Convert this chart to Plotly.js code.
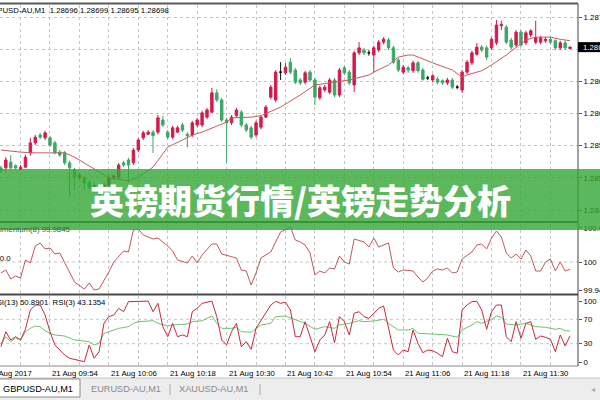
<!DOCTYPE html>
<html><head><meta charset="utf-8">
<script src="https://cdn.plot.ly/plotly-3.0.1.min.js"></script>
<style>html,body{margin:0;padding:0;background:#fff;overflow:hidden}#chart{width:600px;height:400px}</style>
</head><body><div id="chart"></div>
<script>
// ---------- data ----------
const symbolName = "GBPUSD-AU,M1";
const headerOHLC = ["1.28696", "1.28699", "1.28695", "1.28698"];
const momentumLabel = "Momentum(8) 99.9845";
const rsiLabel = "RSI(13) 50.8901\u00a0\u00a0RSI(3) 43.1354";
const bannerText = "英镑期货行情/英镑走势分析";
const tabNames = ["GBPUSD-AU,M1", "EURUSD-AU,M1", "XAUUSD-AU,M1"];

// one candle per minute, bar 0 = 21 Aug 09:44
const openP = [
1.28529,1.28529,1.28537,1.28532,1.28527,1.28530,1.28550,1.28564,1.28575,1.28571,
1.28571,1.28564,1.28551,1.28550,1.28536,1.28526,1.28515,1.28515,1.28509,1.28505,
1.28501,1.28497,1.28505,1.28515,1.28516,1.28536,1.28540,1.28536,1.28554,1.28571,
1.28576,1.28579,1.28579,1.28596,1.28579,1.28572,1.28579,1.28589,1.28576,1.28575,
1.28589,1.28589,1.28600,1.28607,1.28634,1.28624,1.28596,1.28592,1.28602,1.28607,
1.28589,1.28585,1.28575,1.28586,1.28600,1.28628,1.28624,1.28663,1.28662,1.28677,
1.28666,1.28652,1.28649,1.28663,1.28652,1.28627,1.28638,1.28635,1.28652,1.28631,
1.28669,1.28663,1.28645,1.28690,1.28694,1.28690,1.28687,1.28694,1.28705,1.28708,
1.28697,1.28680,1.28663,1.28669,1.28665,1.28676,1.28666,1.28655,1.28652,1.28653,
1.28651,1.28648,1.28652,1.28642,1.28638,1.28663,1.28676,1.28688,1.28698,1.28697,
1.28697,1.28704,1.28728,1.28726,1.28708,1.28701,1.28719,1.28704,1.28715,1.28705,
1.28705,1.28707,1.28709,1.28707,1.28697,1.28704,1.28696];
const highP = [
1.28532,1.28544,1.28547,1.28534,1.28533,1.28547,1.28571,1.28575,1.28578,1.28581,
1.28574,1.28567,1.28554,1.28553,1.28539,1.28529,1.28522,1.28518,1.28512,1.28508,
1.28504,1.28508,1.28518,1.28520,1.28536,1.28539,1.28543,1.28557,1.28571,1.28581,
1.28582,1.28582,1.28603,1.28602,1.28582,1.28588,1.28588,1.28592,1.28579,1.28595,
1.28599,1.28609,1.28613,1.28641,1.28639,1.28627,1.28599,1.28603,1.28613,1.28610,
1.28592,1.28588,1.28595,1.28603,1.28617,1.28645,1.28666,1.28677,1.28676,1.28683,
1.28669,1.28655,1.28665,1.28666,1.28655,1.28644,1.28645,1.28655,1.28655,1.28669,
1.28672,1.28666,1.28693,1.28705,1.28697,1.28694,1.28700,1.28708,1.28712,1.28711,
1.28700,1.28683,1.28673,1.28672,1.28679,1.28679,1.28669,1.28658,1.28660,1.28656,
1.28653,1.28655,1.28655,1.28645,1.28666,1.28680,1.28693,1.28704,1.28701,1.28700,
1.28712,1.28736,1.28735,1.28729,1.28711,1.28722,1.28722,1.28721,1.28723,1.28735,
1.28714,1.28712,1.28712,1.28709,1.28707,1.28707,1.28699];
const lowP = [
1.28522,1.28523,1.28527,1.28526,1.28525,1.28529,1.28546,1.28561,1.28569,1.28568,
1.28558,1.28548,1.28544,1.28533,1.28488,1.28498,1.28512,1.28498,1.28499,1.28494,
1.28490,1.28494,1.28502,1.28512,1.28513,1.28530,1.28509,1.28533,1.28551,1.28568,
1.28575,1.28550,1.28576,1.28586,1.28569,1.28569,1.28578,1.28579,1.28558,1.28572,
1.28586,1.28586,1.28597,1.28606,1.28621,1.28593,1.28536,1.28589,1.28599,1.28586,
1.28579,1.28569,1.28572,1.28583,1.28599,1.28625,1.28621,1.28652,1.28659,1.28660,
1.28646,1.28645,1.28646,1.28649,1.28617,1.28624,1.28635,1.28632,1.28628,1.28628,
1.28659,1.28645,1.28635,1.28687,1.28687,1.28686,1.28663,1.28691,1.28702,1.28694,
1.28674,1.28663,1.28660,1.28662,1.28662,1.28662,1.28651,1.28652,1.28649,1.28646,
1.28645,1.28645,1.28639,1.28639,1.28634,1.28660,1.28673,1.28686,1.28691,1.28680,
1.28694,1.28701,1.28722,1.28702,1.28695,1.28698,1.28698,1.28701,1.28712,1.28702,
1.28702,1.28704,1.28702,1.28694,1.28694,1.28694,1.28695];
const closeP = [
1.28525,1.28540,1.28529,1.28529,1.28530,1.28544,1.28564,1.28572,1.28572,1.28578,
1.28561,1.28550,1.28547,1.28536,1.28529,1.28516,1.28519,1.28508,1.28502,1.28498,
1.28495,1.28505,1.28515,1.28518,1.28533,1.28533,1.28533,1.28554,1.28568,1.28578,
1.28579,1.28574,1.28599,1.28589,1.28572,1.28585,1.28585,1.28582,1.28574,1.28592,
1.28596,1.28606,1.28610,1.28634,1.28624,1.28596,1.28592,1.28600,1.28610,1.28589,
1.28582,1.28572,1.28592,1.28600,1.28614,1.28642,1.28663,1.28663,1.28670,1.28663,
1.28649,1.28648,1.28662,1.28652,1.28628,1.28641,1.28642,1.28652,1.28631,1.28666,
1.28662,1.28648,1.28690,1.28697,1.28690,1.28690,1.28697,1.28705,1.28709,1.28697,
1.28677,1.28666,1.28670,1.28666,1.28676,1.28665,1.28653,1.28655,1.28658,1.28649,
1.28648,1.28652,1.28642,1.28642,1.28663,1.28677,1.28690,1.28698,1.28694,1.28684,
1.28709,1.28729,1.28730,1.28705,1.28698,1.28719,1.28701,1.28718,1.28721,1.28711,
1.28711,1.28709,1.28705,1.28697,1.28704,1.28697,1.28698];

const maBar = [0,4,7,10,13,15,17,20,22,26,28,31,34,37,39,41,46,47,51,53,57,61,64,68,71,75,76,79,81,83,84,88,92,94,95,98,100,103,105,107,109,112,114,116];
const maVal = [1.28554,1.28551,1.28550,1.28550,1.28550,1.28544,1.28536,1.28523,1.28515,1.28511,1.28516,1.28530,1.28558,1.28568,1.28575,1.28579,1.28593,1.28599,1.28600,1.28602,1.28614,1.28631,1.28645,1.28649,1.28652,1.28659,1.28663,1.28673,1.28684,1.28687,1.28687,1.28676,1.28666,1.28656,1.28659,1.28665,1.28673,1.28687,1.28698,1.28708,1.28712,1.28712,1.28709,1.28707];

// Momentum(8)
const momBar = [0,1,2,3,4,5,6,7,8,9,10,11,12,13,14,15,17,18,19,20,22,23,25,26,27,28,29,31,32,34,35,36,38,39,40,41,43,44,45,47,48,49,50,51,52,53,55,57,59,60,61,62,63,64,65,66,67,68,69,70,71,72,74,75,76,77,79,80,81,82,84,85,86,87,88,89,90,91,92,93,94,96,97,98,99,100,101,102,103,104,105,106,107,108,109,110,111,112,113,114,115,116];
const momVal = [99.9764,99.9829,99.9636,99.9700,99.9657,100.0043,99.9979,100.0343,100.0407,100.0279,
100.0300,100.0171,100.0193,99.9979,99.9764,99.9571,99.9421,99.9550,99.9400,99.9421,
99.9786,100.0000,100.0236,100.0214,100.0686,100.0707,100.0579,100.0493,100.0514,100.0343,
100.0236,100.0043,99.9979,100.0129,99.9979,100.0150,100.0386,100.0386,100.0171,100.0107,
100.0086,99.9829,99.9807,99.9507,99.9764,100.0086,100.0214,100.0643,100.0750,100.0471,
100.0429,100.0364,100.0193,99.9721,99.9807,99.9764,99.9871,99.9850,100.0129,100.0000,
99.9957,100.0493,100.0429,100.0321,100.0514,100.0321,100.0407,99.9871,99.9786,99.9829,
99.9807,99.9679,99.9571,99.9657,99.9807,99.9850,99.9829,99.9871,99.9764,99.9786,
100.0064,100.0214,100.0364,100.0386,100.0279,100.0514,100.0664,100.0536,100.0193,100.0086,
100.0171,100.0064,100.0257,100.0129,99.9807,99.9807,100.0000,100.0064,99.9807,100.0000,
99.9807,99.9845];

// RSI(3) (red) and RSI(13) (green)
const rsiFastBar = [0,1,2,3,4,5,6,7,8,9,10,11,12,13,14,16,17,18,19,20,21,22,23,24,25,26,28,30,31,32,33,34,35,36,37,38,39,40,41,43,44,45,46,47,48,49,50,51,52,54,55,56,57,58,59,60,61,62,64,65,66,67,68,69,70,71,72,73,74,75,76,77,78,80,81,82,83,84,85,86,87,88,89,90,91,92,93,94,95,96,97,98,99,100,101,102,103,104,105,106,107,108,109,110,111,112,113,114,115,116];
const rsiFastVal = [25.1,49.7,36.1,41.5,36.1,54.1,85.2,93.4,93.4,77.0,49.7,27.9,19.7,11.5,6.1,
2.1,0.5,27.9,6.1,16.9,63.4,74.3,77.0,88.0,82.5,98.9,
99.6,99.8,
82.5,96.2,57.9,41.5,63.4,41.5,44.3,41.5,82.5,88.0,96.2,
99.7,74.3,36.1,27.9,49.7,63.4,25.1,33.3,20.8,55.2,
79.8,93.4,99.5,96.2,97.9,85.2,41.5,41.5,66.1,
16.9,36.1,44.3,66.1,31.6,74.3,66.1,44.3,79.8,82.5,74.3,71.6,79.8,88.0,91.8,
19.7,11.5,19.7,16.9,52.5,30.7,15.2,19.7,18.5,14.3,8.7,38.9,16.9,14.3,85.2,93.4,98.9,99.6,85.2,53.6,
82.5,93.4,93.4,41.5,33.3,66.1,38.9,63.4,66.1,37.2,42.6,40.5,37.2,16.9,44.3,26.2,43.1354];
const rsiSlowBar = [0,1,2,3,4,5,6,7,8,9,10,11,13,15,18,19,20,21,23,24,26,27,28,30,31,32,34,35,37,38,39,41,43,44,45,47,48,49,51,52,53,55,56,58,60,61,62,64,66,68,69,71,73,74,76,78,79,81,83,84,85,88,91,93,94,96,97,98,100,101,102,103,105,107,109,111,113,114,115,116];
const rsiSlowVal = [30.0,41.5,33.3,39.3,36.1,49.7,55.2,59.0,57.9,51.3,47.0,44.3,
42.6,36.1,33.3,27.9,30.7,47.0,52.5,55.2,57.9,63.4,66.1,67.7,67.7,63.4,59.0,60.7,61.8,62.3,66.1,67.7,
75.4,63.4,55.2,55.2,56.9,49.7,48.7,55.2,60.7,63.4,74.3,75.4,68.9,66.1,63.4,53.6,57.9,55.2,60.7,63.4,
67.7,66.1,67.2,70.0,63.4,52.5,52.5,55.2,47.0,45.9,44.3,40.5,52.5,60.7,66.1,63.4,70.0,75.4,73.3,62.3,
60.7,63.4,57.9,56.9,53.6,55.2,51.3,50.8901];

// axes
const gridBars = [4,10,16,22,28,34,40,46,52,58,64,70,76,82,88,94,100,106,112];
const timeLabelBars = [10,22,34,46,58,70,82,94,106];
const timeLabels = ["21 Aug 09:54","21 Aug 10:06","21 Aug 10:18","21 Aug 10:30","21 Aug 10:42","21 Aug 10:54","21 Aug 11:06","21 Aug 11:18","21 Aug 11:30"];
const firstDateLabel = "21 Aug 2017";
const priceTicks = [1.28740,1.28695,1.28650,1.28605,1.28560,1.28515,1.28470];
const priceTickText = ["1.28740","","1.28650","1.28605","1.28560","1.28515","1.28470"];
const momTicks = [99.94,100,100.073];
const momTickText = ["99.94","100","100.073"];
const rsiTicks = [0,30,70,100];

// ---------- drawing ----------
const PLOT_R = 578, PLOT_T = 5, PLOT_B = 366;
const px = x => x / PLOT_R;
const py = y => (PLOT_B - y) / (PLOT_B - PLOT_T);
const FONT = "Liberation Sans, Arial, sans-serif";
const UP = "#d41b4c", DOWN = "#3aa866";

const bars = openP.map((_, i) => i);
const isDoji = i => openP[i] === closeP[i];
const normIdx = bars.filter(i => !isDoji(i));
const dojiIdx = bars.filter(i => isDoji(i));
const pick = (arr, idx) => idx.map(i => arr[i]);

const traces = [
  {type:'candlestick', xaxis:'x', yaxis:'y', x: normIdx, open: pick(openP,normIdx), high: pick(highP,normIdx),
   low: pick(lowP,normIdx), close: pick(closeP,normIdx), whiskerwidth:0, hoverinfo:'skip',
   increasing:{line:{color:UP,width:1}, fillcolor:UP}, decreasing:{line:{color:DOWN,width:1}, fillcolor:DOWN}},
  {type:'candlestick', xaxis:'x', yaxis:'y', x: dojiIdx, open: pick(openP,dojiIdx), high: pick(highP,dojiIdx),
   low: pick(lowP,dojiIdx), close: pick(closeP,dojiIdx), whiskerwidth:0, hoverinfo:'skip',
   increasing:{line:{color:'#111',width:1}, fillcolor:'#111'}, decreasing:{line:{color:'#111',width:1}, fillcolor:'#111'}},
  {type:'scatter', mode:'lines', xaxis:'x', yaxis:'y', x: maBar, y: maVal, line:{color:'#c85a5e', width:1}, hoverinfo:'skip'},
  {type:'scatter', mode:'lines', xaxis:'x', yaxis:'y2', x: momBar, y: momVal, line:{color:'#c0585c', width:1}, hoverinfo:'skip'},
  {type:'scatter', mode:'lines', xaxis:'x', yaxis:'y3', x: rsiSlowBar, y: rsiSlowVal, line:{color:'#6cc46c', width:1}, hoverinfo:'skip'},
  {type:'scatter', mode:'lines', xaxis:'x', yaxis:'y3', x: rsiFastBar, y: rsiFastVal, line:{color:'#c8283c', width:1}, hoverinfo:'skip'}
];

const GRID = '#c6c6c6';
const yCommon = {side:'right', anchor:'x', zeroline:false, showline:false, automargin:false, fixedrange:true,
  ticks:'outside', ticklen:3, tickcolor:'#555', tickfont:{family:FONT, size:7.8, color:'#000'}};

const lastClose = closeP[closeP.length - 1];
const boxHalf = 0.00007;

const shapes = [
  {type:'line', xref:'paper', yref:'y2', x0:0, x1:1, y0:100, y1:100, line:{color:GRID, width:1, dash:'dot'}, layer:'below'},
  {type:'line', xref:'paper', yref:'y3', x0:0, x1:1, y0:70, y1:70, line:{color:GRID, width:1, dash:'dot'}, layer:'below'},
  {type:'line', xref:'paper', yref:'y3', x0:0, x1:1, y0:30, y1:30, line:{color:GRID, width:1, dash:'dot'}, layer:'below'},
  {type:'line', xref:'paper', yref:'paper', x0:0, x1:1, y0:py(3.5), y1:py(3.5), line:{color:'#5a5a5a', width:2}},
  {type:'line', xref:'paper', yref:'paper', x0:0, x1:1, y0:py(222), y1:py(222), line:{color:'#4a4a4a', width:2}},
  {type:'line', xref:'paper', yref:'paper', x0:0, x1:1, y0:py(294.5), y1:py(294.5), line:{color:'#4a4a4a', width:2}},
  {type:'line', xref:'paper', yref:'paper', x0:0, x1:1, y0:0, y1:0, line:{color:'#8a8a8a', width:1}},
  {type:'line', xref:'paper', yref:'paper', x0:1, x1:1, y0:0, y1:py(3.5), line:{color:'#444', width:1}},
  {type:'rect', xref:'paper', yref:'y', x0:1, x1:px(604), y0:lastClose - boxHalf, y1:lastClose + boxHalf, fillcolor:'#000', line:{width:0}},
  // tab strip
  {type:'rect', xref:'paper', yref:'paper', x0:0, x1:px(604), y0:py(400), y1:py(378), fillcolor:'#ededed', line:{width:0}},
  {type:'line', xref:'paper', yref:'paper', x0:0, x1:px(604), y0:py(378), y1:py(378), line:{color:'#c4c4c4', width:1}},
  {type:'rect', xref:'paper', yref:'paper', x0:px(-2), x1:px(80), y0:py(397), y1:py(379), fillcolor:'#ffffff', line:{color:'#8c8c8c', width:1}},
  {type:'line', xref:'paper', yref:'paper', x0:px(170), x1:px(170), y0:py(384), y1:py(395), line:{color:'#a8a8a8', width:1}},
  {type:'line', xref:'paper', yref:'paper', x0:px(260), x1:px(260), y0:py(384), y1:py(395), line:{color:'#a8a8a8', width:1}},
  // banner
  {type:'rect', xref:'paper', yref:'paper', x0:px(-4), x1:px(604), y0:py(230), y1:py(169), fillcolor:'rgba(51,166,51,0.8)', line:{width:0}, layer:'above'}
];

const small = {family:FONT, size:7.8, color:'#000'};
const annotations = [
  {xref:'paper', yref:'paper', x:px(171), y:py(11), xanchor:'right', yanchor:'middle', showarrow:false,
   text: symbolName + "\u00a0\u00a0" + headerOHLC.join(" "), font: small},
  {xref:'paper', yref:'paper', x:px(73), y:py(229), xanchor:'right', yanchor:'middle', showarrow:false,
   text: momentumLabel, font:{family:FONT, size:7.8, color:'#2c6a2e'}},
  {xref:'paper', yref:'paper', x:px(13), y:py(258), xanchor:'right', yanchor:'middle', showarrow:false,
   text: "100.0", font: small},
  {xref:'paper', yref:'paper', x:px(108), y:py(302), xanchor:'right', yanchor:'middle', showarrow:false,
   text: rsiLabel, font: small},
  {xref:'paper', yref:'y', x:px(581), y:lastClose, xanchor:'left', yanchor:'middle', showarrow:false,
   text: headerOHLC[3], font:{family:FONT, size:7.8, color:'#fff'}},
  {xref:'paper', yref:'paper', x:px(34), y:py(373), xanchor:'right', yanchor:'middle', showarrow:false,
   text: firstDateLabel, font: small},
  ...timeLabelBars.map((b, k) => ({xref:'x', yref:'paper', x:b, y:py(373), xanchor:'left', yanchor:'middle',
   showarrow:false, text: timeLabels[k], font: small})),
  {xref:'paper', yref:'paper', x:px(1), y:py(388.5), xanchor:'left', yanchor:'middle', showarrow:false,
   text: tabNames[0], font:{family:FONT, size:9.2, color:'#000'}},
  {xref:'paper', yref:'paper', x:px(89), y:py(388.5), xanchor:'left', yanchor:'middle', showarrow:false,
   text: tabNames[1], font:{family:FONT, size:9.2, color:'#8a8a8a'}},
  {xref:'paper', yref:'paper', x:px(177), y:py(388.5), xanchor:'left', yanchor:'middle', showarrow:false,
   text: tabNames[2], font:{family:FONT, size:9.2, color:'#8a8a8a'}},
  {xref:'paper', yref:'paper', x:px(593), y:py(389), xanchor:'center', yanchor:'middle', showarrow:false,
   text: "\u25C2", font:{family:FONT, size:8, color:'#aaaaaa'}},
  {xref:'paper', yref:'paper', x:px(300), y:py(200), xanchor:'center', yanchor:'middle', showarrow:false,
   text: bannerText, font:{family:'"Noto Sans CJK SC", "Noto Sans", sans-serif', size:34, color:'#ffffff', weight:900}}
];

const layout = {
  width:600, height:400, margin:{l:0, r:22, t:5, b:34, pad:0},
  paper_bgcolor:'#ffffff', plot_bgcolor:'#ffffff', showlegend:false,
  font:{family:FONT, size:7.8, color:'#000'},
  xaxis:{range:[-0.19, 117.62], tickvals:gridBars, showticklabels:false, ticks:'', showgrid:true,
    gridcolor:GRID, griddash:'dot', gridwidth:1, zeroline:false, showline:false,
    rangeslider:{visible:false}, fixedrange:true, automargin:false},
  yaxis:Object.assign({}, yCommon, {domain:[py(221), 1], range:[1.284546, 1.28757],
    tickvals:priceTicks, ticktext:priceTickText, showgrid:true, gridcolor:GRID, griddash:'dot'}),
  yaxis2:Object.assign({}, yCommon, {domain:[py(293), py(224)], range:[99.93357, 100.08143],
    tickvals:momTicks, ticktext:momTickText, showgrid:false}),
  yaxis3:Object.assign({}, yCommon, {domain:[0, py(296)], range:[-6.557, 108.197],
    tickvals:rsiTicks, showgrid:false}),
  shapes, annotations
};

Plotly.newPlot('chart', traces, layout, {staticPlot:true, displayModeBar:false});
</script>
</body></html>
